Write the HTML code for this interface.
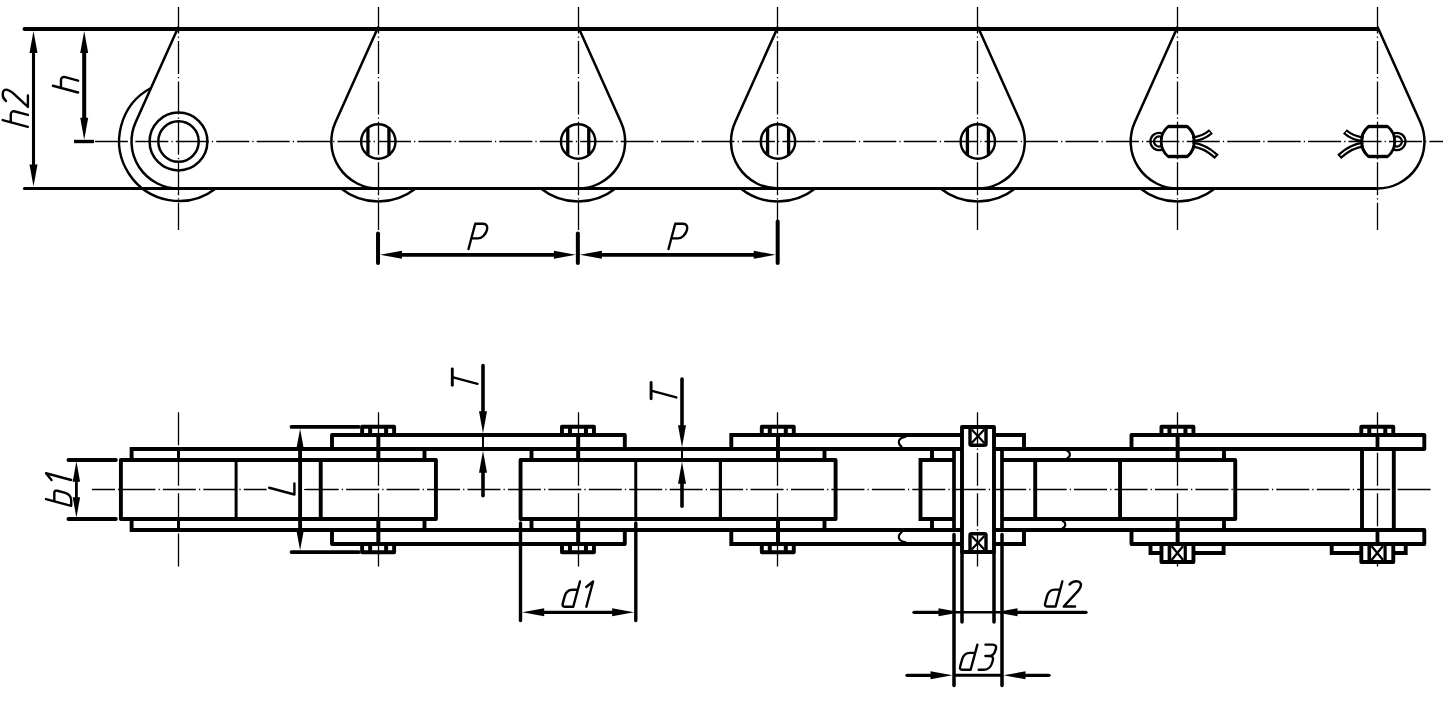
<!DOCTYPE html>
<html><head><meta charset="utf-8"><title>Chain drawing</title>
<style>
html,body{margin:0;padding:0;background:#fff;font-family:"Liberation Sans",sans-serif;}
svg{display:block}
</style></head>
<body>
<svg width="1443" height="704" viewBox="0 0 1443 704">
<rect width="1443" height="704" fill="#fff"/>
<line x1="94.9" y1="141.5" x2="1443" y2="141.5" stroke="#000" stroke-width="1.3" stroke-dasharray="33 3.1 1.24 3.1" stroke-dashoffset="0"/>
<line x1="178.5" y1="7.1" x2="178.5" y2="230" stroke="#000" stroke-width="1.3" stroke-dasharray="33 3.1 1.24 3.1" stroke-dashoffset="6.6"/>
<line x1="378.5" y1="7.1" x2="378.5" y2="230" stroke="#000" stroke-width="1.3" stroke-dasharray="33 3.1 1.24 3.1" stroke-dashoffset="6.6"/>
<line x1="578.5" y1="7.1" x2="578.5" y2="230" stroke="#000" stroke-width="1.3" stroke-dasharray="33 3.1 1.24 3.1" stroke-dashoffset="6.6"/>
<line x1="777.5" y1="7.1" x2="777.5" y2="230" stroke="#000" stroke-width="1.3" stroke-dasharray="33 3.1 1.24 3.1" stroke-dashoffset="6.6"/>
<line x1="977.5" y1="7.1" x2="977.5" y2="230" stroke="#000" stroke-width="1.3" stroke-dasharray="33 3.1 1.24 3.1" stroke-dashoffset="6.6"/>
<line x1="1177.5" y1="7.1" x2="1177.5" y2="230" stroke="#000" stroke-width="1.3" stroke-dasharray="33 3.1 1.24 3.1" stroke-dashoffset="6.6"/>
<line x1="1377.5" y1="7.1" x2="1377.5" y2="230" stroke="#000" stroke-width="1.3" stroke-dasharray="33 3.1 1.24 3.1" stroke-dashoffset="6.6"/>
<line x1="24.5" y1="29.0" x2="1377.18" y2="29.0" stroke="#000" stroke-width="4.0" stroke-linecap="butt" />
<line x1="24.5" y1="188.5" x2="1377.18" y2="188.5" stroke="#000" stroke-width="3.2" stroke-linecap="butt" />
<circle cx="24.5" cy="29.0" r="2.0"/><circle cx="24.5" cy="188.5" r="1.6"/>
<path d="M341.03,188.5 A60,60 0 0 0 415.63,188.5" fill="none" stroke="#000" stroke-width="2.4" stroke-linecap="butt" stroke-linejoin="miter" />
<path d="M540.86,188.5 A60,60 0 0 0 615.46,188.5" fill="none" stroke="#000" stroke-width="2.4" stroke-linecap="butt" stroke-linejoin="miter" />
<path d="M740.69,188.5 A60,60 0 0 0 815.29,188.5" fill="none" stroke="#000" stroke-width="2.4" stroke-linecap="butt" stroke-linejoin="miter" />
<path d="M940.52,188.5 A60,60 0 0 0 1015.12,188.5" fill="none" stroke="#000" stroke-width="2.4" stroke-linecap="butt" stroke-linejoin="miter" />
<path d="M1140.35,188.5 A60,60 0 0 0 1214.95,188.5" fill="none" stroke="#000" stroke-width="2.4" stroke-linecap="butt" stroke-linejoin="miter" />
<path d="M151.0,88.0 A60,60 0 1 0 215.80,188.5" fill="none" stroke="#000" stroke-width="2.4" stroke-linecap="butt" stroke-linejoin="miter" />
<path d="M178.5,26.8 L135.63,122.24 A47,47 0 0 0 178.5,188.5" fill="none" stroke="#000" stroke-width="2.5" stroke-linecap="butt" stroke-linejoin="miter" />
<path d="M378.33,26.8 L335.46,122.24 A47,47 0 0 0 378.33,188.5" fill="none" stroke="#000" stroke-width="2.5" stroke-linecap="butt" stroke-linejoin="miter" />
<path d="M578.16,26.8 L621.03,122.24 A47,47 0 0 1 578.16,188.5" fill="none" stroke="#000" stroke-width="2.5" stroke-linecap="butt" stroke-linejoin="miter" />
<path d="M777.99,26.8 L735.12,122.24 A47,47 0 0 0 777.99,188.5" fill="none" stroke="#000" stroke-width="2.5" stroke-linecap="butt" stroke-linejoin="miter" />
<path d="M977.82,26.8 L1020.69,122.24 A47,47 0 0 1 977.82,188.5" fill="none" stroke="#000" stroke-width="2.5" stroke-linecap="butt" stroke-linejoin="miter" />
<path d="M1177.65,26.8 L1134.78,122.24 A47,47 0 0 0 1177.65,188.5" fill="none" stroke="#000" stroke-width="2.5" stroke-linecap="butt" stroke-linejoin="miter" />
<path d="M1377.48,26.8 L1420.35,122.24 A47,47 0 0 1 1377.48,188.5" fill="none" stroke="#000" stroke-width="2.5" stroke-linecap="butt" stroke-linejoin="miter" />
<circle cx="178.5" cy="141.5" r="28.9" fill="none" stroke="#000" stroke-width="2.5"/>
<circle cx="178.5" cy="141.5" r="20.2" fill="none" stroke="#000" stroke-width="2.5"/>
<circle cx="378.33" cy="141.5" r="17.2" fill="none" stroke="#000" stroke-width="2.4"/>
<line x1="367.93" y1="127.2" x2="367.93" y2="155.8" stroke="#000" stroke-width="3.3" stroke-linecap="butt" />
<line x1="388.93" y1="127.2" x2="388.93" y2="155.8" stroke="#000" stroke-width="3.3" stroke-linecap="butt" />
<circle cx="578.16" cy="141.5" r="17.2" fill="none" stroke="#000" stroke-width="2.4"/>
<line x1="567.76" y1="127.2" x2="567.76" y2="155.8" stroke="#000" stroke-width="3.3" stroke-linecap="butt" />
<line x1="588.76" y1="127.2" x2="588.76" y2="155.8" stroke="#000" stroke-width="3.3" stroke-linecap="butt" />
<circle cx="777.99" cy="141.5" r="17.2" fill="none" stroke="#000" stroke-width="2.4"/>
<line x1="767.59" y1="127.2" x2="767.59" y2="155.8" stroke="#000" stroke-width="3.3" stroke-linecap="butt" />
<line x1="788.59" y1="127.2" x2="788.59" y2="155.8" stroke="#000" stroke-width="3.3" stroke-linecap="butt" />
<circle cx="977.82" cy="141.5" r="17.2" fill="none" stroke="#000" stroke-width="2.4"/>
<line x1="967.4200000000001" y1="127.2" x2="967.4200000000001" y2="155.8" stroke="#000" stroke-width="3.3" stroke-linecap="butt" />
<line x1="988.4200000000001" y1="127.2" x2="988.4200000000001" y2="155.8" stroke="#000" stroke-width="3.3" stroke-linecap="butt" />
<path d="M1168.15,126.5 L1187.35,126.5 A19.57,19.57 0 0 1 1187.35,156.5 L1168.15,156.5 A19.57,19.57 0 0 1 1168.15,126.5 Z" fill="none" stroke="#000" stroke-width="2.8" stroke-linecap="butt" stroke-linejoin="round" />
<line x1="1168.15" y1="126.5" x2="1187.35" y2="126.5" stroke="#000" stroke-width="3.4" stroke-linecap="butt" />
<line x1="1168.15" y1="156.5" x2="1187.35" y2="156.5" stroke="#000" stroke-width="3.4" stroke-linecap="butt" />
<path d="M1162.45,133.60 A8.6,8.6 0 1 0 1162.45,149.40" fill="none" stroke="#000" stroke-width="2.3" stroke-linecap="butt" stroke-linejoin="miter" />
<path d="M1162.45,137.83 A5.0,5.0 0 1 0 1162.45,145.17" fill="none" stroke="#000" stroke-width="2.3" stroke-linecap="butt" stroke-linejoin="miter" />
<path d="M1192.25,139.3 C1200.25,138.7 1206.25,135.7 1210.95,131.5" fill="none" stroke="#000" stroke-width="5.9" stroke-linecap="butt" stroke-linejoin="miter" />
<path d="M1192.25,144.5 C1201.25,145.5 1209.25,150.0 1216.75,156.8" fill="none" stroke="#000" stroke-width="5.9" stroke-linecap="butt" stroke-linejoin="miter" />
<path d="M1192.25,139.3 C1200.25,138.7 1206.25,135.7 1210.95,131.5" fill="none" stroke="#fff" stroke-width="1.5" stroke-linecap="butt" stroke-linejoin="miter" pathLength="100" stroke-dasharray="93 100"/>
<path d="M1192.25,144.5 C1201.25,145.5 1209.25,150.0 1216.75,156.8" fill="none" stroke="#fff" stroke-width="1.5" stroke-linecap="butt" stroke-linejoin="miter" pathLength="100" stroke-dasharray="93 100"/>
<path d="M1187.35,126.5 A19.57,19.57 0 0 1 1187.35,156.5" fill="none" stroke="#000" stroke-width="2.8" stroke-linecap="butt" stroke-linejoin="miter" />
<path d="M1368.53,126.5 L1387.73,126.5 A19.57,19.57 0 0 1 1387.73,156.5 L1368.53,156.5 A19.57,19.57 0 0 1 1368.53,126.5 Z" fill="none" stroke="#000" stroke-width="2.8" stroke-linecap="butt" stroke-linejoin="round" />
<line x1="1368.5300000000002" y1="126.5" x2="1387.73" y2="126.5" stroke="#000" stroke-width="3.4" stroke-linecap="butt" />
<line x1="1368.5300000000002" y1="156.5" x2="1387.73" y2="156.5" stroke="#000" stroke-width="3.4" stroke-linecap="butt" />
<path d="M1393.43,133.60 A8.6,8.6 0 1 1 1393.43,149.40" fill="none" stroke="#000" stroke-width="2.3" stroke-linecap="butt" stroke-linejoin="miter" />
<path d="M1393.43,137.83 A5.0,5.0 0 1 1 1393.43,145.17" fill="none" stroke="#000" stroke-width="2.3" stroke-linecap="butt" stroke-linejoin="miter" />
<path d="M1363.63,139.3 C1355.63,138.7 1349.63,135.7 1344.93,131.5" fill="none" stroke="#000" stroke-width="5.9" stroke-linecap="butt" stroke-linejoin="miter" />
<path d="M1363.63,144.5 C1354.63,145.5 1346.63,150.0 1339.13,156.8" fill="none" stroke="#000" stroke-width="5.9" stroke-linecap="butt" stroke-linejoin="miter" />
<path d="M1363.63,139.3 C1355.63,138.7 1349.63,135.7 1344.93,131.5" fill="none" stroke="#fff" stroke-width="1.5" stroke-linecap="butt" stroke-linejoin="miter" pathLength="100" stroke-dasharray="93 100"/>
<path d="M1363.63,144.5 C1354.63,145.5 1346.63,150.0 1339.13,156.8" fill="none" stroke="#fff" stroke-width="1.5" stroke-linecap="butt" stroke-linejoin="miter" pathLength="100" stroke-dasharray="93 100"/>
<path d="M1368.53,126.5 A19.57,19.57 0 0 0 1368.53,156.5" fill="none" stroke="#000" stroke-width="2.8" stroke-linecap="butt" stroke-linejoin="miter" />
<line x1="33.5" y1="51.9" x2="33.5" y2="165.6" stroke="#000" stroke-width="3.1" stroke-linecap="butt" />
<polygon points="33.50,30.90 37.50,52.90 29.50,52.90" fill="#000"/>
<polygon points="33.50,186.60 29.50,164.60 37.50,164.60" fill="#000"/>
<line x1="84.2" y1="51.9" x2="84.2" y2="118.8" stroke="#000" stroke-width="4.0" stroke-linecap="butt" />
<polygon points="84.20,30.90 88.20,52.90 80.20,52.90" fill="#000"/>
<polygon points="84.20,139.80 80.20,117.80 88.20,117.80" fill="#000"/>
<line x1="74.0" y1="141.5" x2="94" y2="141.5" stroke="#000" stroke-width="3.4" stroke-linecap="butt" />
<path d="M 2.70,120.05 L 27.90,126.80 M 12.02,122.55 C 11.27,122.34 10.76,121.70 10.76,120.70 L 10.76,114.65 C 10.76,112.13 12.53,110.84 15.05,111.51 L 27.90,114.96" fill="none" stroke="#000" stroke-width="2.4" stroke-linecap="round" stroke-linejoin="round" />
<path d="M 5.98,101.02 C 3.96,99.47 2.70,97.37 2.70,94.34 C 2.70,90.82 4.46,89.02 7.49,89.83 C 9.50,90.37 10.76,91.21 12.53,92.69 L 27.90,106.89 L 27.90,95.55" fill="none" stroke="#000" stroke-width="2.4" stroke-linecap="round" stroke-linejoin="round" />
<path d="M 52.90,85.75 L 78.10,92.50 M 62.22,88.25 C 61.47,88.04 60.96,87.40 60.96,86.40 L 60.96,80.35 C 60.96,77.83 62.73,76.54 65.25,77.21 L 78.10,80.66" fill="none" stroke="#000" stroke-width="2.4" stroke-linecap="round" stroke-linejoin="round" />
<line x1="378.03" y1="233.5" x2="378.03" y2="263.0" stroke="#000" stroke-width="4.0" stroke-linecap="round" />
<line x1="577.86" y1="233.5" x2="577.86" y2="263.0" stroke="#000" stroke-width="4.0" stroke-linecap="round" />
<line x1="777.69" y1="221.5" x2="777.69" y2="263.0" stroke="#000" stroke-width="4.0" stroke-linecap="round" />
<line x1="401.03" y1="254.8" x2="554.86" y2="254.8" stroke="#000" stroke-width="3.8" stroke-linecap="butt" />
<polygon points="380.03,254.80 402.03,250.80 402.03,258.80" fill="#000"/>
<polygon points="575.86,254.80 553.86,258.80 553.86,250.80" fill="#000"/>
<line x1="600.86" y1="254.8" x2="754.69" y2="254.8" stroke="#000" stroke-width="3.8" stroke-linecap="butt" />
<polygon points="579.86,254.80 601.86,250.80 601.86,258.80" fill="#000"/>
<polygon points="775.69,254.80 753.69,258.80 753.69,250.80" fill="#000"/>
<path d="M 468.50,249.00 L 475.25,223.80 L 482.81,223.80 C 486.84,223.80 487.87,226.57 486.99,229.85 C 485.77,234.38 481.92,238.42 477.89,238.42 L 471.34,238.42" fill="none" stroke="#000" stroke-width="2.4" stroke-linecap="round" stroke-linejoin="round" />
<path d="M 668.50,249.00 L 675.25,223.80 L 682.81,223.80 C 686.84,223.80 687.87,226.57 686.99,229.85 C 685.77,234.38 681.92,238.42 677.89,238.42 L 671.34,238.42" fill="none" stroke="#000" stroke-width="2.4" stroke-linecap="round" stroke-linejoin="round" />
<line x1="92" y1="489.5" x2="266.6" y2="489.5" stroke="#000" stroke-width="1.3" stroke-dasharray="33 3.1 1.24 3.1" stroke-dashoffset="10"/>
<line x1="304" y1="489.5" x2="306" y2="489.5" stroke="#000" stroke-width="1.2" stroke-linecap="butt" />
<line x1="305.7" y1="489.5" x2="1432" y2="489.5" stroke="#000" stroke-width="1.3" stroke-dasharray="33 3.1 1.24 3.1" stroke-dashoffset="0"/>
<line x1="178.5" y1="412.3" x2="178.5" y2="568.0" stroke="#000" stroke-width="1.3" stroke-dasharray="33 3.1 1.24 3.1" stroke-dashoffset="0"/>
<line x1="378.5" y1="412.3" x2="378.5" y2="568.0" stroke="#000" stroke-width="1.3" stroke-dasharray="33 3.1 1.24 3.1" stroke-dashoffset="0"/>
<line x1="578.5" y1="412.3" x2="578.5" y2="568.0" stroke="#000" stroke-width="1.3" stroke-dasharray="33 3.1 1.24 3.1" stroke-dashoffset="0"/>
<line x1="777.5" y1="412.3" x2="777.5" y2="568.0" stroke="#000" stroke-width="1.3" stroke-dasharray="33 3.1 1.24 3.1" stroke-dashoffset="0"/>
<line x1="977.5" y1="412.3" x2="977.5" y2="568.0" stroke="#000" stroke-width="1.3" stroke-dasharray="33 3.1 1.24 3.1" stroke-dashoffset="0"/>
<line x1="1177.5" y1="412.3" x2="1177.5" y2="568.0" stroke="#000" stroke-width="1.3" stroke-dasharray="33 3.1 1.24 3.1" stroke-dashoffset="0"/>
<line x1="1377.5" y1="412.3" x2="1377.5" y2="568.0" stroke="#000" stroke-width="1.3" stroke-dasharray="33 3.1 1.24 3.1" stroke-dashoffset="0"/>
<rect x="120.9" y="460.0" width="315.03" height="59.0" rx="0" fill="none" stroke="#000" stroke-width="3.9" stroke-linejoin="round"/>
<line x1="236.1" y1="460.0" x2="236.1" y2="519.0" stroke="#000" stroke-width="3.0" stroke-linecap="butt" />
<line x1="320.72999999999996" y1="460.0" x2="320.72999999999996" y2="519.0" stroke="#000" stroke-width="3.9" stroke-linecap="butt" />
<rect x="520.56" y="460.0" width="315.03" height="59.0" rx="0" fill="none" stroke="#000" stroke-width="3.9" stroke-linejoin="round"/>
<line x1="635.76" y1="460.0" x2="635.76" y2="519.0" stroke="#000" stroke-width="3.0" stroke-linecap="butt" />
<line x1="720.39" y1="460.0" x2="720.39" y2="519.0" stroke="#000" stroke-width="3.2" stroke-linecap="butt" />
<rect x="1120.0500000000002" y="460.0" width="115.2" height="59.0" rx="0" fill="none" stroke="#000" stroke-width="3.9" stroke-linejoin="round"/>
<path d="M131.6,460.0 L131.6,449.0 L424.5,449.0 L424.5,460.0" fill="none" stroke="#000" stroke-width="3.9" stroke-linecap="butt" stroke-linejoin="miter" />
<path d="M131.6,519.0 L131.6,530.0 L424.5,530.0 L424.5,519.0" fill="none" stroke="#000" stroke-width="3.9" stroke-linecap="butt" stroke-linejoin="miter" />
<path d="M531.5,460.0 L531.5,449.0 L824.5,449.0 L824.5,460.0" fill="none" stroke="#000" stroke-width="3.9" stroke-linecap="butt" stroke-linejoin="miter" />
<path d="M531.5,519.0 L531.5,530.0 L824.5,530.0 L824.5,519.0" fill="none" stroke="#000" stroke-width="3.9" stroke-linecap="butt" stroke-linejoin="miter" />
<line x1="178.5" y1="449.0" x2="178.5" y2="460.0" stroke="#000" stroke-width="3.0" stroke-linecap="butt" />
<line x1="178.5" y1="519.0" x2="178.5" y2="530.0" stroke="#000" stroke-width="3.0" stroke-linecap="butt" />
<rect x="332" y="435.0" width="292.8" height="14.0" rx="0" fill="none" stroke="#000" stroke-width="3.9" stroke-linejoin="round"/>
<rect x="332" y="530.0" width="292.8" height="14.0" rx="0" fill="none" stroke="#000" stroke-width="3.9" stroke-linejoin="round"/>
<line x1="378.33" y1="435.0" x2="378.33" y2="460.0" stroke="#000" stroke-width="4.0" stroke-linecap="butt" />
<line x1="378.33" y1="519.0" x2="378.33" y2="544.0" stroke="#000" stroke-width="4.0" stroke-linecap="butt" />
<rect x="362.13" y="426.8" width="32.0" height="8.2" rx="0" fill="none" stroke="#000" stroke-width="3.9" stroke-linejoin="round"/>
<line x1="370.13" y1="426.8" x2="370.13" y2="435.0" stroke="#000" stroke-width="4" stroke-linecap="butt" />
<line x1="386.13" y1="426.8" x2="386.13" y2="435.0" stroke="#000" stroke-width="4" stroke-linecap="butt" />
<rect x="362.13" y="544.0" width="32.0" height="8.2" rx="0" fill="none" stroke="#000" stroke-width="3.9" stroke-linejoin="round"/>
<line x1="370.13" y1="544.0" x2="370.13" y2="552.2" stroke="#000" stroke-width="4" stroke-linecap="butt" />
<line x1="386.13" y1="544.0" x2="386.13" y2="552.2" stroke="#000" stroke-width="4" stroke-linecap="butt" />
<line x1="578.16" y1="435.0" x2="578.16" y2="460.0" stroke="#000" stroke-width="4.0" stroke-linecap="butt" />
<line x1="578.16" y1="519.0" x2="578.16" y2="544.0" stroke="#000" stroke-width="4.0" stroke-linecap="butt" />
<rect x="561.9599999999999" y="426.8" width="32.0" height="8.2" rx="0" fill="none" stroke="#000" stroke-width="3.9" stroke-linejoin="round"/>
<line x1="569.9599999999999" y1="426.8" x2="569.9599999999999" y2="435.0" stroke="#000" stroke-width="4" stroke-linecap="butt" />
<line x1="585.9599999999999" y1="426.8" x2="585.9599999999999" y2="435.0" stroke="#000" stroke-width="4" stroke-linecap="butt" />
<rect x="561.9599999999999" y="544.0" width="32.0" height="8.2" rx="0" fill="none" stroke="#000" stroke-width="3.9" stroke-linejoin="round"/>
<line x1="569.9599999999999" y1="544.0" x2="569.9599999999999" y2="552.2" stroke="#000" stroke-width="4" stroke-linecap="butt" />
<line x1="585.9599999999999" y1="544.0" x2="585.9599999999999" y2="552.2" stroke="#000" stroke-width="4" stroke-linecap="butt" />
<line x1="777.99" y1="435.0" x2="777.99" y2="460.0" stroke="#000" stroke-width="4.0" stroke-linecap="butt" />
<line x1="777.99" y1="519.0" x2="777.99" y2="544.0" stroke="#000" stroke-width="4.0" stroke-linecap="butt" />
<rect x="761.79" y="426.8" width="32.0" height="8.2" rx="0" fill="none" stroke="#000" stroke-width="3.9" stroke-linejoin="round"/>
<line x1="769.79" y1="426.8" x2="769.79" y2="435.0" stroke="#000" stroke-width="4" stroke-linecap="butt" />
<line x1="785.79" y1="426.8" x2="785.79" y2="435.0" stroke="#000" stroke-width="4" stroke-linecap="butt" />
<rect x="761.79" y="544.0" width="32.0" height="8.2" rx="0" fill="none" stroke="#000" stroke-width="3.9" stroke-linejoin="round"/>
<line x1="769.79" y1="544.0" x2="769.79" y2="552.2" stroke="#000" stroke-width="4" stroke-linecap="butt" />
<line x1="785.79" y1="544.0" x2="785.79" y2="552.2" stroke="#000" stroke-width="4" stroke-linecap="butt" />
<path d="M962,435.0 L731.3,435.0 L731.3,449.0 L962,449.0" fill="none" stroke="#000" stroke-width="3.9" stroke-linecap="butt" stroke-linejoin="miter" />
<path d="M962,544.0 L731.3,544.0 L731.3,530.0 L962,530.0" fill="none" stroke="#000" stroke-width="3.9" stroke-linecap="butt" stroke-linejoin="miter" />
<path d="M932,460.0 L932,449.0" fill="none" stroke="#000" stroke-width="3.9" stroke-linecap="butt" stroke-linejoin="miter" />
<path d="M932,519.0 L932,530.0" fill="none" stroke="#000" stroke-width="3.9" stroke-linecap="butt" stroke-linejoin="miter" />
<path d="M954,460.0 L920.5,460.0 L920.5,519.0 L954,519.0" fill="none" stroke="#000" stroke-width="3.9" stroke-linecap="butt" stroke-linejoin="miter" />
<line x1="954" y1="449.0" x2="954" y2="528.5" stroke="#000" stroke-width="3.7" stroke-linecap="butt" />
<line x1="1002" y1="449.0" x2="1002" y2="528.5" stroke="#000" stroke-width="3.7" stroke-linecap="butt" />
<path d="M994,435.0 L1024,435.0 L1024,449.0" fill="none" stroke="#000" stroke-width="3.9" stroke-linecap="butt" stroke-linejoin="miter" />
<path d="M994,544.0 L1024,544.0 L1024,530.0" fill="none" stroke="#000" stroke-width="3.9" stroke-linecap="butt" stroke-linejoin="miter" />
<line x1="994" y1="449.0" x2="1224" y2="449.0" stroke="#000" stroke-width="3.9" stroke-linecap="butt" />
<line x1="994" y1="530.0" x2="1224" y2="530.0" stroke="#000" stroke-width="3.9" stroke-linecap="butt" />
<line x1="1002" y1="460.0" x2="1120" y2="460.0" stroke="#000" stroke-width="3.9" stroke-linecap="butt" />
<line x1="1002" y1="519.0" x2="1120" y2="519.0" stroke="#000" stroke-width="3.9" stroke-linecap="butt" />
<line x1="1035.2" y1="460.0" x2="1035.2" y2="519.0" stroke="#000" stroke-width="3.9" stroke-linecap="butt" />
<line x1="1224" y1="449.0" x2="1224" y2="460.0" stroke="#000" stroke-width="3.9" stroke-linecap="butt" />
<line x1="1224" y1="519.0" x2="1224" y2="530.0" stroke="#000" stroke-width="3.9" stroke-linecap="butt" />
<rect x="962" y="427" width="32" height="125" rx="0" fill="none" stroke="#000" stroke-width="3.9" stroke-linejoin="round"/>
<rect x="970" y="427" width="16" height="18.2" rx="1.5" fill="none" stroke="#000" stroke-width="3.4" stroke-linejoin="round"/>
<rect x="970" y="533.8" width="16" height="18.2" rx="1.5" fill="none" stroke="#000" stroke-width="3.4" stroke-linejoin="round"/>
<path d="M971.7,429.5 L984.3,443 M984.3,429.5 L971.7,443" fill="none" stroke="#000" stroke-width="2.2" stroke-linecap="butt" stroke-linejoin="miter" />
<path d="M971.7,536 L984.3,549.5 M984.3,536 L971.7,549.5" fill="none" stroke="#000" stroke-width="2.2" stroke-linecap="butt" stroke-linejoin="miter" />
<path d="M906.2,436.60 C901,437.50 898.5,440.00 898.8,442.50 C899,444.50 900.5,446.20 902.2,447.20" fill="none" stroke="#000" stroke-width="2.1" stroke-linecap="butt" stroke-linejoin="miter" />
<path d="M906.2,542.40 C901,541.50 898.5,539.00 898.8,536.50 C899,534.50 900.5,532.80 902.2,531.80" fill="none" stroke="#000" stroke-width="2.1" stroke-linecap="butt" stroke-linejoin="miter" />
<path d="M1066.6,450.5 C1071.0,452.0 1071.0,457.0 1066.6,458.5" fill="none" stroke="#000" stroke-width="2.1" stroke-linecap="butt" stroke-linejoin="miter" />
<path d="M1062.0,520.5 C1066.4,522.0 1066.4,527.0 1062.0,528.5" fill="none" stroke="#000" stroke-width="2.1" stroke-linecap="butt" stroke-linejoin="miter" />
<rect x="1131.5" y="435.0" width="292.8" height="14.0" rx="0" fill="none" stroke="#000" stroke-width="3.9" stroke-linejoin="round"/>
<rect x="1131.5" y="530.0" width="292.8" height="14.0" rx="0" fill="none" stroke="#000" stroke-width="3.9" stroke-linejoin="round"/>
<line x1="1177.65" y1="435.0" x2="1177.65" y2="460.0" stroke="#000" stroke-width="4.0" stroke-linecap="butt" />
<line x1="1177.65" y1="519.0" x2="1177.65" y2="544.0" stroke="#000" stroke-width="4.0" stroke-linecap="butt" />
<rect x="1161.45" y="426.8" width="32.0" height="8.2" rx="0" fill="none" stroke="#000" stroke-width="3.9" stroke-linejoin="round"/>
<line x1="1169.45" y1="426.8" x2="1169.45" y2="435.0" stroke="#000" stroke-width="4" stroke-linecap="butt" />
<line x1="1185.45" y1="426.8" x2="1185.45" y2="435.0" stroke="#000" stroke-width="4" stroke-linecap="butt" />
<rect x="1361.28" y="426.8" width="32.0" height="8.2" rx="0" fill="none" stroke="#000" stroke-width="3.9" stroke-linejoin="round"/>
<line x1="1369.28" y1="426.8" x2="1369.28" y2="435.0" stroke="#000" stroke-width="4" stroke-linecap="butt" />
<line x1="1385.28" y1="426.8" x2="1385.28" y2="435.0" stroke="#000" stroke-width="4" stroke-linecap="butt" />
<line x1="1377.48" y1="435.0" x2="1377.48" y2="449.0" stroke="#000" stroke-width="3.8" stroke-linecap="butt" />
<line x1="1377.48" y1="530.0" x2="1377.48" y2="544.0" stroke="#000" stroke-width="3.8" stroke-linecap="butt" />
<line x1="1362" y1="449.0" x2="1362" y2="530.0" stroke="#000" stroke-width="3.9" stroke-linecap="butt" />
<line x1="1393.8" y1="449.0" x2="1393.8" y2="530.0" stroke="#000" stroke-width="3.9" stroke-linecap="butt" />
<path d="M1150.5,544.0 L1150.5,553 L1223.6,553 L1223.6,544.0" fill="none" stroke="#000" stroke-width="3.9" stroke-linecap="butt" stroke-linejoin="miter" />
<rect x="1161.45" y="544.0" width="32.0" height="18.0" rx="0" fill="#fff" stroke="#000" stroke-width="3.9" stroke-linejoin="round"/>
<line x1="1169.45" y1="544.0" x2="1169.45" y2="562" stroke="#000" stroke-width="3.6" stroke-linecap="butt" />
<line x1="1185.25" y1="544.0" x2="1185.25" y2="562" stroke="#000" stroke-width="3.2" stroke-linecap="butt" />
<path d="M1171.65,546.0 L1183.15,560 M1183.15,546.0 L1171.65,560" fill="none" stroke="#000" stroke-width="2.2" stroke-linecap="butt" stroke-linejoin="miter" />
<path d="M1331.7,544.0 L1331.7,553 L1405.7,553 L1405.7,544.0" fill="none" stroke="#000" stroke-width="3.9" stroke-linecap="butt" stroke-linejoin="miter" />
<rect x="1361.28" y="544.0" width="32.0" height="18.0" rx="0" fill="#fff" stroke="#000" stroke-width="3.9" stroke-linejoin="round"/>
<line x1="1369.28" y1="544.0" x2="1369.28" y2="562" stroke="#000" stroke-width="3.6" stroke-linecap="butt" />
<line x1="1385.08" y1="544.0" x2="1385.08" y2="562" stroke="#000" stroke-width="3.2" stroke-linecap="butt" />
<path d="M1371.48,546.0 L1382.98,560 M1382.98,546.0 L1371.48,560" fill="none" stroke="#000" stroke-width="2.2" stroke-linecap="butt" stroke-linejoin="miter" />
<line x1="68.5" y1="460.0" x2="115.8" y2="460.0" stroke="#000" stroke-width="4.0" stroke-linecap="round" />
<line x1="68.5" y1="519.0" x2="115.8" y2="519.0" stroke="#000" stroke-width="4.0" stroke-linecap="round" />
<line x1="76.4" y1="480.7" x2="76.4" y2="498.3" stroke="#000" stroke-width="2.8" stroke-linecap="butt" />
<polygon points="76.40,461.20 80.10,481.70 72.70,481.70" fill="#000"/>
<polygon points="76.40,517.80 72.70,497.30 80.10,497.30" fill="#000"/>
<path d="M 46.00,499.05 L 71.20,505.80 L 71.20,500.51 C 71.20,496.73 68.68,493.78 64.40,492.64 L 57.34,490.75 C 55.58,490.27 54.32,490.94 54.32,492.71 L 54.32,501.28" fill="none" stroke="#000" stroke-width="2.4" stroke-linecap="round" stroke-linejoin="round" />
<path d="M 51.54,480.00 L 46.00,473.22 L 71.20,479.97" fill="none" stroke="#000" stroke-width="2.4" stroke-linecap="round" stroke-linejoin="round" />
<line x1="291.5" y1="426.9" x2="358.8" y2="426.9" stroke="#000" stroke-width="3.7" stroke-linecap="round" />
<line x1="291.5" y1="552.1" x2="358.8" y2="552.1" stroke="#000" stroke-width="3.7" stroke-linecap="round" />
<line x1="300.1" y1="447.7" x2="300.1" y2="531.3" stroke="#000" stroke-width="3.9" stroke-linecap="butt" />
<polygon points="300.10,428.70 303.80,448.70 296.40,448.70" fill="#000"/>
<polygon points="300.10,550.30 296.40,530.30 303.80,530.30" fill="#000"/>
<path d="M 269.20,487.75 L 294.40,494.50 L 294.40,483.41" fill="none" stroke="#000" stroke-width="2.4" stroke-linecap="round" stroke-linejoin="round" />
<line x1="483.0" y1="412.2" x2="483.0" y2="365.5" stroke="#000" stroke-width="3.6" stroke-linecap="round" />
<polygon points="483.00,433.20 479.00,411.20 487.00,411.20" fill="#000"/>
<line x1="483.0" y1="471.8" x2="483.0" y2="495.8" stroke="#000" stroke-width="3.6" stroke-linecap="round" />
<polygon points="483.00,450.80 487.00,472.80 479.00,472.80" fill="#000"/>
<line x1="483" y1="435.0" x2="483" y2="449.0" stroke="#000" stroke-width="2.0" stroke-linecap="butt" />
<path d="M 452.30,385.25 L 452.30,368.87" fill="none" stroke="#000" stroke-width="2.9" stroke-linecap="round" stroke-linejoin="round" />
<path d="M 452.30,377.06 L 477.50,383.81" fill="none" stroke="#000" stroke-width="2.4" stroke-linecap="round" stroke-linejoin="round" />
<line x1="682.0" y1="426.2" x2="682.0" y2="379.0" stroke="#000" stroke-width="3.6" stroke-linecap="round" />
<polygon points="682.00,447.20 678.00,425.20 686.00,425.20" fill="#000"/>
<line x1="682.0" y1="482.8" x2="682.0" y2="506.3" stroke="#000" stroke-width="3.6" stroke-linecap="round" />
<polygon points="682.00,461.80 686.00,483.80 678.00,483.80" fill="#000"/>
<line x1="682" y1="449.0" x2="682" y2="460.0" stroke="#000" stroke-width="2.0" stroke-linecap="butt" />
<path d="M 651.10,398.85 L 651.10,382.47" fill="none" stroke="#000" stroke-width="2.9" stroke-linecap="round" stroke-linejoin="round" />
<path d="M 651.10,390.66 L 676.30,397.41" fill="none" stroke="#000" stroke-width="2.4" stroke-linecap="round" stroke-linejoin="round" />
<line x1="520.5" y1="523" x2="520.5" y2="620.5" stroke="#000" stroke-width="3.4" stroke-linecap="round" />
<line x1="635.8" y1="523" x2="635.8" y2="620.5" stroke="#000" stroke-width="3.4" stroke-linecap="round" />
<line x1="543.2" y1="612.3" x2="613.1" y2="612.3" stroke="#000" stroke-width="3.3" stroke-linecap="butt" />
<polygon points="522.20,612.30 544.20,608.30 544.20,616.30" fill="#000"/>
<polygon points="634.10,612.30 612.10,616.30 612.10,608.30" fill="#000"/>
<path d="M 579.99,581.50 L 573.24,606.70 L 564.67,606.70 C 562.91,606.70 562.24,605.44 562.71,603.68 L 564.60,596.62 C 565.75,592.34 568.69,589.82 572.47,589.82 L 577.76,589.82" fill="none" stroke="#000" stroke-width="2.4" stroke-linecap="round" stroke-linejoin="round" />
<path d="M 586.32,587.04 L 593.10,581.50 L 586.34,606.70" fill="none" stroke="#000" stroke-width="2.4" stroke-linecap="round" stroke-linejoin="round" />
<line x1="954" y1="534.5" x2="954" y2="685.5" stroke="#000" stroke-width="3.5" stroke-linecap="round" />
<line x1="1002" y1="534.5" x2="1002" y2="685.5" stroke="#000" stroke-width="3.5" stroke-linecap="round" />
<line x1="962" y1="552" x2="962" y2="622" stroke="#000" stroke-width="3.5" stroke-linecap="round" />
<line x1="994" y1="552" x2="994" y2="622" stroke="#000" stroke-width="3.5" stroke-linecap="round" />
<line x1="939.5" y1="612.3" x2="914.0" y2="612.3" stroke="#000" stroke-width="3.3" stroke-linecap="round" />
<polygon points="960.50,612.30 938.50,616.30 938.50,608.30" fill="#000"/>
<line x1="1016.5" y1="612.3" x2="1086.0" y2="612.3" stroke="#000" stroke-width="3.3" stroke-linecap="round" />
<polygon points="995.50,612.30 1017.50,608.30 1017.50,616.30" fill="#000"/>
<line x1="954" y1="612.3" x2="1002" y2="612.3" stroke="#000" stroke-width="2.4" stroke-linecap="butt" />
<line x1="931.5" y1="675.3" x2="907.0" y2="675.3" stroke="#000" stroke-width="3.3" stroke-linecap="round" />
<polygon points="952.50,675.30 930.50,679.30 930.50,671.30" fill="#000"/>
<line x1="1024.5" y1="675.3" x2="1049.0" y2="675.3" stroke="#000" stroke-width="3.3" stroke-linecap="round" />
<polygon points="1003.50,675.30 1025.50,671.30 1025.50,679.30" fill="#000"/>
<line x1="954" y1="675.3" x2="1002" y2="675.3" stroke="#000" stroke-width="3.0" stroke-linecap="butt" />
<path d="M 1062.39,581.30 L 1055.64,606.50 L 1047.07,606.50 C 1045.31,606.50 1044.64,605.24 1045.11,603.48 L 1047.00,596.42 C 1048.15,592.14 1051.09,589.62 1054.87,589.62 L 1060.16,589.62" fill="none" stroke="#000" stroke-width="2.4" stroke-linecap="round" stroke-linejoin="round" />
<path d="M 1069.58,584.58 C 1071.13,582.56 1073.23,581.30 1076.25,581.30 C 1079.78,581.30 1081.58,583.06 1080.77,586.09 C 1080.23,588.10 1079.38,589.36 1077.90,591.13 L 1063.70,606.50 L 1075.04,606.50" fill="none" stroke="#000" stroke-width="2.4" stroke-linecap="round" stroke-linejoin="round" />
<path d="M 977.39,644.60 L 970.64,669.80 L 962.07,669.80 C 960.31,669.80 959.64,668.54 960.11,666.78 L 962.00,659.72 C 963.15,655.44 966.09,652.92 969.87,652.92 L 975.16,652.92" fill="none" stroke="#000" stroke-width="2.4" stroke-linecap="round" stroke-linejoin="round" />
<path d="M 985.46,644.60 L 992.76,644.60 C 995.54,644.60 996.58,646.36 995.90,648.88 C 994.89,652.66 992.50,655.94 989.73,655.94 L 985.44,655.94 M 989.73,655.94 C 992.50,655.94 993.54,657.70 992.86,660.22 L 992.32,662.24 C 991.11,666.78 987.78,669.80 984.25,669.80 L 978.70,669.80" fill="none" stroke="#000" stroke-width="2.4" stroke-linecap="round" stroke-linejoin="round" />
</svg>
</body></html>
